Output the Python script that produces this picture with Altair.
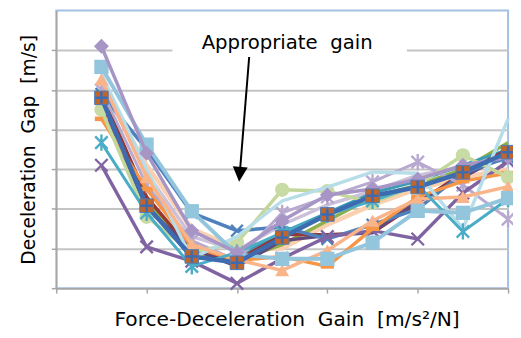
import altair as alt
import pandas as pd

# ---------------- data ----------------
gain_index = [1, 2, 3, 4, 5, 6, 7, 8, 9, 10]

s_main      = [4.80, 2.08, 0.80, 0.64, 1.28, 1.86, 2.33, 2.55, 2.92, 3.43]
s_diamond   = [6.10, 3.40, 1.45, 0.90, 1.70, 2.35, 2.50, 2.75, 3.10, 3.30]
s_sq_light  = [5.58, 3.62, 1.94, 0.85, 0.74, 0.74, 1.15, 1.95, 1.90, 2.27]
s_purple_x  = [3.10, 1.04, 0.68, 0.12, 0.75, 1.30, 1.45, 1.24, 2.40, 3.20]
s_aqua_star = [3.67, 1.90, 0.55, 0.90, 1.40, 1.85, 2.20, 2.60, 1.43, 2.25]
s_tri       = [5.26, 2.80, 1.10, 0.72, 0.45, 0.95, 1.70, 2.25, 2.30, 2.56]
s_lgreen    = [4.50, 1.80, 0.90, 1.15, 2.48, 2.45, 2.15, 2.60, 3.35, 2.80]
s_orange    = [4.27, 2.50, 1.05, 0.70, 0.80, 0.55, 1.50, 2.30, 2.70, 2.90]
s_red       = [4.90, 2.30, 0.95, 0.70, 1.35, 1.35, 1.40, 2.15, 2.90, 3.50]
s_dpurple   = [4.70, 2.00, 1.00, 0.55, 1.20, 1.33, 1.40, 2.20, 2.80, 3.40]
s_blue_x    = [4.90, 3.50, 1.90, 1.45, 1.54, 1.24, 1.60, 2.00, 2.90, 3.30]
s_lpur_star = [5.00, 2.60, 1.20, 0.70, 1.90, 2.30, 2.68, 3.18, 2.60, 1.74]
s_skyline   = [5.40, 3.00, 0.75, 1.30, 2.20, 2.55, 2.93, 2.90, 1.50, 4.27]
s_green     = [4.60, 2.20, 0.90, 0.70, 1.10, 1.70, 2.30, 2.60, 3.00, 3.67]
s_aqua      = [4.40, 2.10, 0.75, 0.80, 1.40, 1.90, 2.40, 2.70, 3.10, 3.50]
s_lavender  = [5.20, 2.90, 1.30, 0.95, 1.60, 2.10, 2.45, 2.85, 3.05, 3.25]
s_peach     = [5.10, 3.10, 1.50, 1.00, 1.00, 1.60, 2.10, 2.50, 2.80, 3.00]

# annotation
ann_text = ["Appropriate\u00a0 gain"]
ann_text_x = [5.11]
ann_text_y = [6.03]
ann_box_x = [2.57]
ann_box_x2 = [7.76]
ann_box_y = [5.82]
ann_box_y2 = [6.25]
arrow_x = [4.27]
arrow_y = [5.83]
arrow_x2 = [4.07]
arrow_y2 = [3.0]
arrow_head_x = [4.06]
arrow_head_y = [2.87]

# ---------------- styling ----------------
X_SHAPE = "M-1,-1L1,1M-1,1L1,-1"
STAR_SHAPE = "M-1,-1L1,1M-1,1L1,-1M0,-1.3L0,1.3"
PLUS_SHAPE = "M-1,0L1,0M0,-1L0,1"
DASH_SHAPE = "M-1,-0.35L1,-0.35L1,0.35L-1,0.35Z"

# (values, line colour, marker shape or None, filled, marker colour, size, line width)
series = [
    (s_peach,     "#FBD0AE", None,          True,  None,      0,   4.5),
    (s_lavender,  "#CCC0DA", None,          True,  None,      0,   3.5),
    (s_green,     "#8DB04C", None,          True,  None,      0,   3.5),
    (s_aqua,      "#3A9CB8", None,          True,  None,      0,   3.0),
    (s_red,       "#943634", None,          True,  None,      0,   3.5),
    (s_dpurple,   "#604A7B", None,          True,  None,      0,   3.5),
    (s_blue_x,    "#4F81BD", X_SHAPE,       False, "#4F81BD", 140, 3.5),
    (s_lpur_star, "#B8A9D0", STAR_SHAPE,    False, "#B8A9D0", 160, 3.0),
    (s_purple_x,  "#8064A2", X_SHAPE,       False, "#8064A2", 160, 3.5),
    (s_orange,    "#F79646", DASH_SHAPE,    True,  "#F79646", 180, 3.5),
    (s_lgreen,    "#C4D79B", "circle",      True,  "#C9DBA5", 210, 3.5),
    (s_skyline,   "#B7DDE8", None,          True,  None,      0,   3.5),
    (s_tri,       "#F9B48A", "triangle-up", True,  "#F9B48A", 200, 3.5),
    (s_aqua_star, "#4BACC6", STAR_SHAPE,    False, "#4BACC6", 160, 3.0),
    (s_sq_light,  "#93C5DC", "square",      True,  "#93C5DC", 210, 4.0),
    (s_diamond,   "#A795C6", "diamond",     True,  "#A795C6", 230, 3.5),
]

x_enc = alt.X(
    "x:Q",
    scale=alt.Scale(domain=[0, 10], nice=False, zero=False),
    axis=alt.Axis(
        values=[0, 2, 4, 6, 8, 10], labels=False, grid=False,
        title="Force-Deceleration\u00a0 Gain\u00a0 [m/s\u00b2/N]",
        titlePadding=16, titleX=234, titleFontSize=20.5,
    ),
)
y_enc = alt.Y(
    "y:Q",
    scale=alt.Scale(domain=[0, 7], nice=False),
    axis=alt.Axis(
        values=[0, 1, 2, 3, 4, 5, 6], labels=False, grid=True,
        title="Deceleration\u00a0 Gap\u00a0 [m/s]",
        titlePadding=12, titleFontSize=19,
    ),
)

layers = []

# white box behind the annotation text (hides gridline)
box_df = pd.DataFrame({"x": ann_box_x, "x2": ann_box_x2, "y": ann_box_y, "y2": ann_box_y2})
layers.append(
    alt.Chart(box_df).mark_rect(color="white").encode(
        x=x_enc, x2="x2:Q", y=y_enc, y2="y2:Q"
    )
)

for vals, lc, shape, filled, mc, size, lw in series:
    df = pd.DataFrame({"x": gain_index, "y": vals})
    layers.append(
        alt.Chart(df).mark_line(color=lc, strokeWidth=lw).encode(x=x_enc, y=y_enc)
    )
    if shape is not None:
        if filled:
            pt = alt.Chart(df).mark_point(shape=shape, filled=True, size=size,
                                          color=mc, opacity=1)
        else:
            pt = alt.Chart(df).mark_point(shape=shape, filled=False, size=size,
                                          color=mc, strokeWidth=2.4, opacity=1)
        layers.append(pt.encode(x=x_enc, y=y_enc))

# main series on top
main_df = pd.DataFrame({"x": gain_index, "y": s_main})
layers.append(
    alt.Chart(main_df).mark_line(color="#3C6BB0", strokeWidth=4.5).encode(x=x_enc, y=y_enc)
)
layers.append(
    alt.Chart(main_df).mark_point(shape="square", filled=True, size=190,
                                  color="#C0652B", stroke="#4A7BB7",
                                  strokeWidth=1, opacity=1).encode(x=x_enc, y=y_enc)
)
layers.append(
    alt.Chart(main_df).mark_point(shape=PLUS_SHAPE, filled=False, size=150,
                                  color="#3C6BB0", strokeWidth=2.5,
                                  opacity=1).encode(x=x_enc, y=y_enc)
)

# annotation text and arrow
txt_df = pd.DataFrame({"x": ann_text_x, "y": ann_text_y, "t": ann_text})
layers.append(
    alt.Chart(txt_df).mark_text(font="DejaVu Sans", fontSize=20, color="black",
                                align="center", baseline="alphabetic").encode(
        x=x_enc, y=y_enc, text="t:N"
    )
)
arr_df = pd.DataFrame({"x": arrow_x, "y": arrow_y, "x2": arrow_x2, "y2": arrow_y2})
layers.append(
    alt.Chart(arr_df).mark_rule(color="black", strokeWidth=2).encode(
        x=x_enc, y=y_enc, x2="x2:Q", y2="y2:Q"
    )
)
head_df = pd.DataFrame({"x": arrow_head_x, "y": arrow_head_y})
layers.append(
    alt.Chart(head_df).mark_point(shape="M-1,-1L1,-1L0,1Z", filled=True, size=230,
                                  color="black", angle=4.5, opacity=1).encode(
        x=x_enc, y=y_enc
    )
)

chart = (
    alt.layer(*layers)
    .properties(width=459, height=282, autosize="none",
                padding={"left": 49, "top": 0, "right": 5, "bottom": 48})
    .configure_view(stroke="#A4C0E4", strokeWidth=2)
    .configure_axis(
        domainColor="#A6A6A6", domainWidth=1.5,
        tickColor="#A6A6A6", tickWidth=1.5, tickSize=5,
        gridColor="#C4C4C4", gridWidth=2,
        titleFont="DejaVu Sans", titleFontWeight="normal",
        titleColor="black",
    )
)

chart.save("out.html", embed_options={"renderer": "svg", "actions": False})
